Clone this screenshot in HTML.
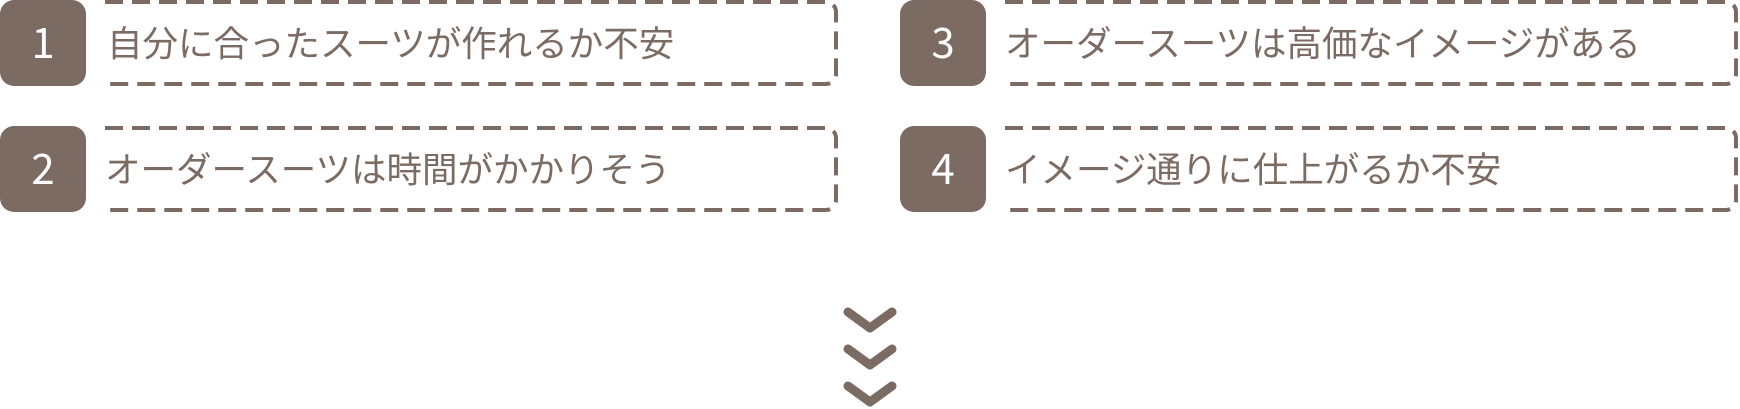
<!DOCTYPE html>
<html><head><meta charset="utf-8"><style>
html,body{margin:0;padding:0;background:#fff;width:1740px;height:409px;overflow:hidden}
svg text{font-family:"Noto Sans CJK JP","Liberation Sans",sans-serif;}
</style></head><body>
<svg width="1740" height="409" viewBox="0 0 1740 409" xmlns="http://www.w3.org/2000/svg">
<g fill="#7b6b62">
<rect x="0" y="0" width="86" height="86" rx="14"/>
<rect x="0" y="126" width="86" height="86" rx="14"/>
<rect x="900" y="0" width="86" height="86" rx="14"/>
<rect x="900" y="126" width="86" height="86" rx="14"/>
</g>
<g fill="#fff" font-size="42" text-anchor="middle">
<text x="43" y="58">1</text>
<text x="43" y="184">2</text>
<text x="943" y="58">3</text>
<text x="943" y="184">4</text>
</g>
<g fill="none" stroke="#7b6b62" stroke-width="4" stroke-dasharray="18 9">
<path d="M105 2 H826 A10 10 0 0 1 836 12 V74 A10 10 0 0 1 826 84 H109"/>
<path d="M105 128 H826 A10 10 0 0 1 836 138 V200 A10 10 0 0 1 826 210 H109"/>
<path d="M1005 2 H1726 A10 10 0 0 1 1736 12 V74 A10 10 0 0 1 1726 84 H1009"/>
<path d="M1005 128 H1726 A10 10 0 0 1 1736 138 V200 A10 10 0 0 1 1726 210 H1009"/>
</g>
<g fill="#7b6b62" font-size="35.5">
<text x="107" y="56">自分に合ったスーツが作れるか不安</text>
<text x="105" y="182">オーダースーツは時間がかかりそう</text>
<text x="1005" y="56">オーダースーツは高価なイメージがある</text>
<text x="1005" y="182">イメージ通りに仕上がるか不安</text>
</g>
<g fill="none" stroke="#7b6b62" stroke-width="9" stroke-linecap="round" stroke-linejoin="round">
<path d="M848 312 L870 328 L892 312"/>
<path d="M848 349 L870 365 L892 349"/>
<path d="M848 386 L870 402 L892 386"/>
</g>
</svg>
</body></html>
